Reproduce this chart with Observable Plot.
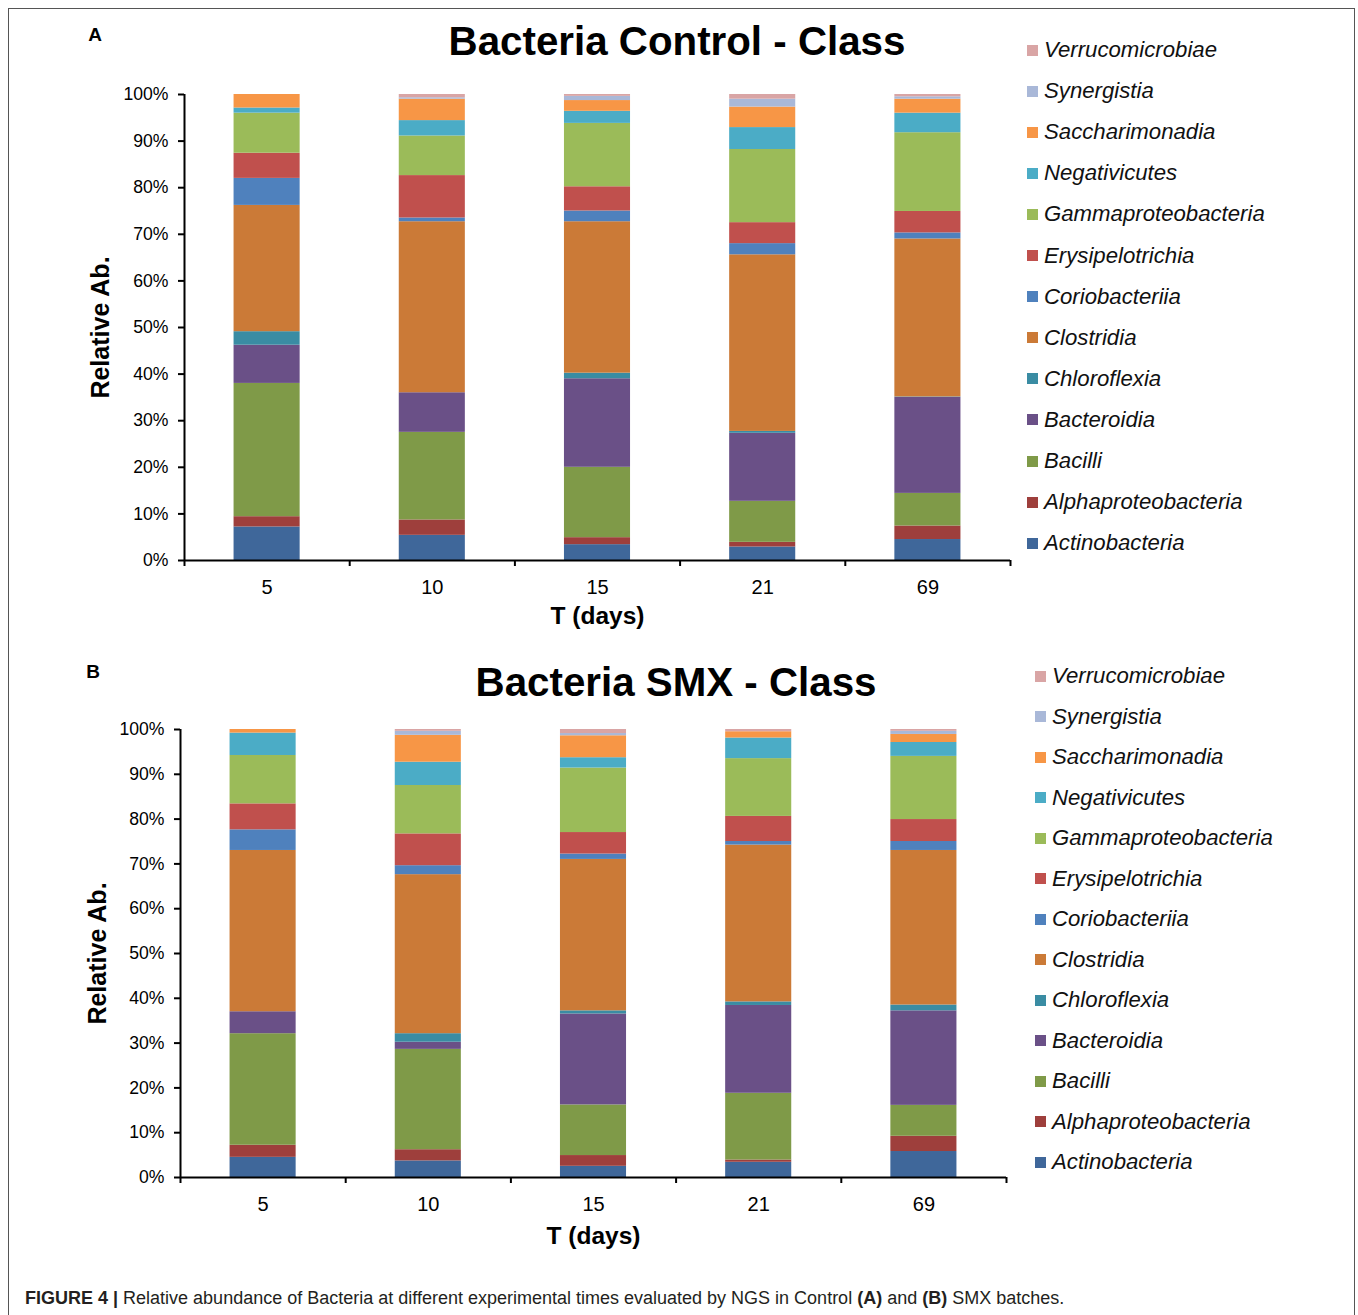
<!DOCTYPE html>
<html>
<head>
<meta charset="utf-8">
<script src="https://cdn.jsdelivr.net/npm/d3@7"></script>
<script src="https://cdn.jsdelivr.net/npm/@observablehq/plot@0.6"></script>
<style>
  body { margin: 0; background: #fff; font-family: "Liberation Sans", Arial, sans-serif; color: #000; }
  #fig { position: relative; width: 1358px; height: 1315px; overflow: hidden; background: #fff; }
  .frame { position: absolute; left: 8px; top: 8px; width: 1347px; height: 1330px; border: 1.5px solid #555; box-sizing: border-box; }
  .abs { position: absolute; white-space: nowrap; }
  .title { font-weight: bold; font-size: 40.3px; transform: translate(-50%, -50%); }
  .plab { font-weight: bold; font-size: 19px; transform: translate(-50%, -50%); }
  .li { position: absolute; display: flex; align-items: center; font-style: italic; font-size: 22.2px; white-space: nowrap; transform: translateY(-50%); color: #111; }
  .sw { width: 11px; height: 11px; margin-right: 6px; flex: none; }
  .cap { font-size: 18px; color: #231f20; transform: translateY(-50%); }
</style>
</head>
<body>
<div id="fig"><div class="frame"></div></div>
<script>
// ---- data ----
const days = ["5", "10", "15", "21", "69"];
const classes = ["Actinobacteria", "Alphaproteobacteria", "Bacilli", "Bacteroidia", "Chloroflexia",
  "Clostridia", "Coriobacteriia", "Erysipelotrichia", "Gammaproteobacteria", "Negativicutes",
  "Saccharimonadia", "Synergistia", "Verrucomicrobiae"];
const classColors = ["#3F679A", "#9E3F3C", "#7F9A48", "#6A5087", "#3A8CA3",
  "#CB7A37", "#4F81BD", "#C0504D", "#9BBB59", "#4BACC6",
  "#F79646", "#A9B8D8", "#D9A5A5"];

// Control (values in %, class order as above)
const control5  = [7.2, 2.2, 28.6, 8.2, 2.9, 27.1, 5.8, 5.4, 8.6, 1.1, 2.9, 0, 0];
const control10 = [5.4, 3.3, 18.8, 8.5, 0, 36.7, 0.8, 9.1, 8.5, 3.3, 4.6, 0.3, 0.7];
const control15 = [3.4, 1.5, 15.1, 19.0, 1.2, 32.5, 2.3, 5.2, 13.6, 2.6, 2.3, 0.9, 0.4];
const control21 = [2.9, 1.0, 8.8, 14.6, 0.4, 37.9, 2.4, 4.5, 15.7, 4.7, 4.4, 1.7, 1.0];
const control69 = [4.5, 2.9, 7.0, 20.6, 0.1, 33.9, 1.3, 4.6, 16.9, 4.2, 3.0, 0.5, 0.5];

// SMX
const smx5  = [4.5, 2.7, 24.9, 4.9, 0, 36.0, 4.6, 5.8, 10.8, 5.0, 0.8, 0, 0];
const smx10 = [3.7, 2.5, 22.4, 1.6, 1.9, 35.5, 2.0, 7.1, 10.8, 5.2, 6.0, 0.9, 0.4];
const smx15 = [2.5, 2.4, 11.3, 20.3, 0.7, 33.8, 1.2, 4.8, 14.4, 2.3, 4.9, 0.5, 0.9];
const smx21 = [3.4, 0.5, 14.9, 19.6, 0.8, 35.0, 0.8, 5.6, 12.9, 4.6, 1.4, 0, 0.5];
const smx69 = [5.8, 3.4, 6.9, 21.1, 1.3, 34.5, 2.0, 4.9, 14.1, 3.1, 1.8, 0.7, 0.4];

const yTicks = [0, 0.1, 0.2, 0.3, 0.4, 0.5, 0.6, 0.7, 0.8, 0.9, 1];

const fig = document.getElementById("fig");

function makePanel(cols, cfg) {
  const data = [];
  cols.forEach((vals, i) => vals.forEach((v, j) => data.push({idx: i, day: days[i], cls: classes[j], value: v})));
  const plotW = cfg.width - cfg.marginLeft - cfg.marginRight;
  const step = plotW / days.length;
  const inset = step * 0.3;
  const chart = Plot.plot({
    width: cfg.width,
    height: cfg.height,
    marginLeft: cfg.marginLeft,
    marginRight: cfg.marginRight,
    marginTop: cfg.marginTop,
    marginBottom: cfg.marginBottom,
    style: {fontFamily: '"Liberation Sans", Arial, sans-serif', color: "#000", background: "transparent", overflow: "visible"},
    x: {domain: [0, days.length], axis: null},
    y: {domain: [0, 1], axis: null},
    color: {domain: classes, range: classColors},
    marks: [
      Plot.rectY(data, {x: "idx", interval: 1, y: "value", fill: "cls", offset: "normalize", insetLeft: inset, insetRight: inset}),
      Plot.axisY({ticks: yTicks, tickFormat: d3.format(".0%"), tickSize: 6, tickPadding: 10, strokeWidth: 2, fontSize: 17.6, label: null}),
      Plot.axisX({ticks: d3.range(0, days.length + 1), tickFormat: () => "", tickSize: 6, strokeWidth: 2, label: null}),
      Plot.axisX({ticks: days.map((d, i) => i + 0.5), tickFormat: t => days[Math.floor(t)], tickSize: 0, tickPadding: 19, fontSize: 20, label: null}),
      Plot.ruleX([0], {strokeWidth: 2}),
      Plot.ruleY([0], {strokeWidth: 2}),
      Plot.text(["Relative Ab."], {frameAnchor: "left", rotate: -90, dx: -cfg.ylabOff, textAnchor: "middle", lineAnchor: "middle", fontSize: 25, fontWeight: "bold"}),
      Plot.text(["T (days)"], {frameAnchor: "bottom", dy: cfg.xlabOff, textAnchor: "middle", lineAnchor: "middle", fontSize: 24.5, fontWeight: "bold"})
    ]
  });
  chart.style.position = "absolute";
  chart.style.left = "0px";
  chart.style.top = cfg.top + "px";
  fig.appendChild(chart);

  const t = document.createElement("div");
  t.className = "abs title";
  t.style.left = cfg.titleX + "px";
  t.style.top = cfg.titleY + "px";
  t.textContent = cfg.title;
  fig.appendChild(t);

  const p = document.createElement("div");
  p.className = "abs plab";
  p.style.left = cfg.labX + "px";
  p.style.top = cfg.labY + "px";
  p.textContent = cfg.lab;
  fig.appendChild(p);

  const rev = classes.map((c, j) => j).reverse();
  rev.forEach((j, k) => {
    const it = document.createElement("div");
    it.className = "li";
    it.style.left = cfg.legX + "px";
    it.style.top = (cfg.legY + k * cfg.legStep) + "px";
    const sw = document.createElement("span");
    sw.className = "sw";
    sw.style.background = classColors[j];
    const tx = document.createElement("span");
    tx.textContent = classes[j];
    it.appendChild(sw);
    it.appendChild(tx);
    fig.appendChild(it);
  });
}

makePanel([control5, control10, control15, control21, control69], {
  top: 0, width: 1020, height: 640, marginLeft: 184, marginRight: 10, marginTop: 94, marginBottom: 80,
  ylabOff: 84, xlabOff: 56,
  title: "Bacteria Control - Class", titleX: 677, titleY: 42, lab: "A", labX: 95, labY: 35,
  legX: 1027, legY: 50, legStep: 41.1
});

makePanel([smx5, smx10, smx15, smx21, smx69], {
  top: 635, width: 1020, height: 622, marginLeft: 180, marginRight: 14, marginTop: 94, marginBottom: 80,
  ylabOff: 83, xlabOff: 59,
  title: "Bacteria SMX - Class", titleX: 676, titleY: 683, lab: "B", labX: 93, labY: 672,
  legX: 1035, legY: 676, legStep: 40.5
});

const cap = document.createElement("div");
cap.className = "abs cap";
cap.style.left = "25px";
cap.style.top = "1298px";
cap.innerHTML = "<b>FIGURE 4 |</b> Relative abundance of Bacteria at different experimental times evaluated by NGS in Control <b>(A)</b> and <b>(B)</b> SMX batches.";
fig.appendChild(cap);
</script>
</body>
</html>
